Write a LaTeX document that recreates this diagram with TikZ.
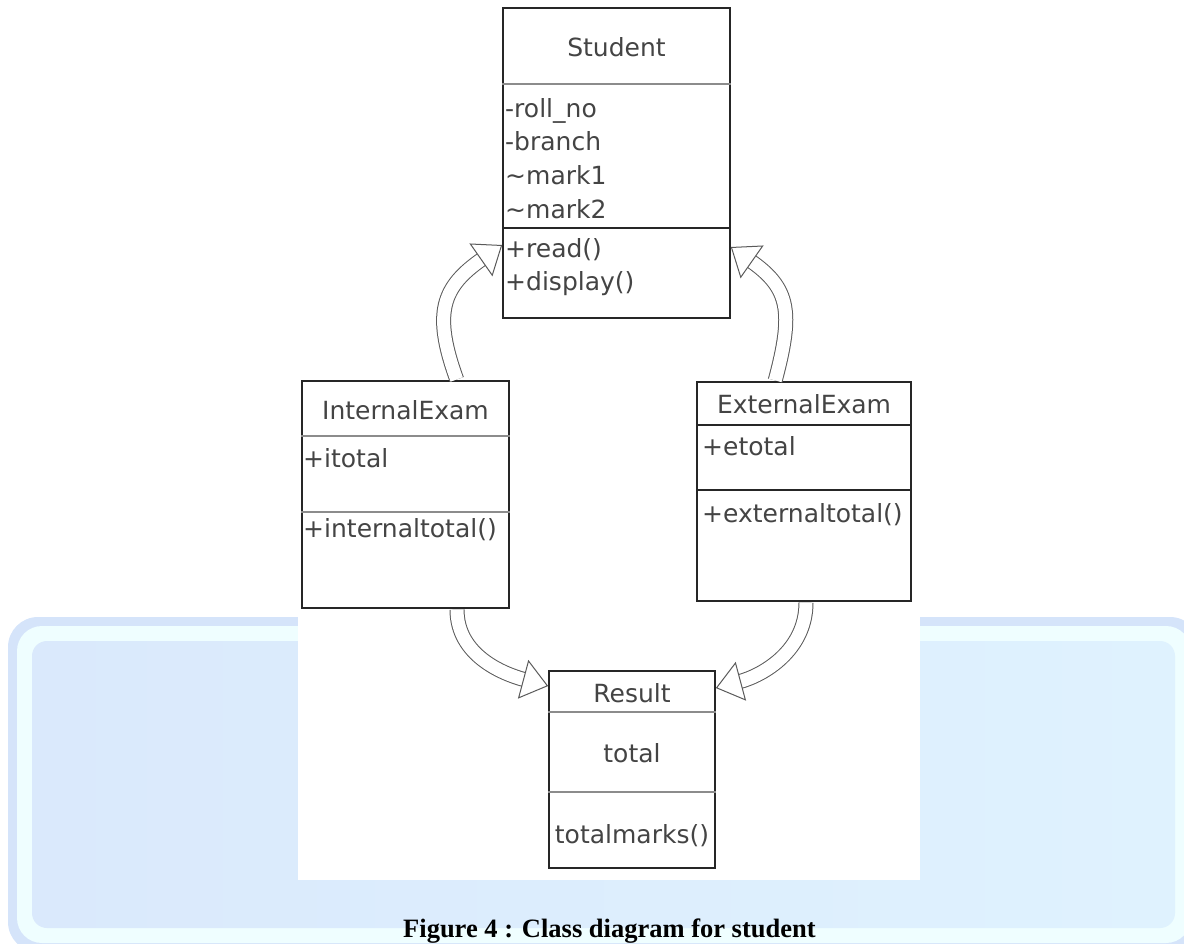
\documentclass[tikz,border=0pt]{standalone}
\usepackage{fontspec}
\setmainfont{DejaVu Sans}
\newfontfamily\capfont{Liberation Serif}
\usetikzlibrary{positioning,arrows.meta,decorations.markings}

\definecolor{paneledge}{HTML}{D5E4FA}
\definecolor{panelrim}{HTML}{EFFEFF}
\definecolor{panelleft}{HTML}{DAE9FC}
\definecolor{panelright}{HTML}{DFF2FE}
\definecolor{umlline}{HTML}{262626}
\definecolor{umltext}{HTML}{444444}
\definecolor{umlrule}{HTML}{8C8C8C}
\definecolor{flow}{HTML}{5A5A5A}

\begin{document}
\begin{tikzpicture}[x=1pt, y=-1pt,
  every node/.style={font=\fontsize{25}{30}\selectfont, text=umltext, inner sep=0pt},
  classbox/.style={rectangle, draw=umlline, line width=1.6pt, fill=white},
  member/.style={anchor=base west},
  title/.style={anchor=base},
  divider/.style={draw=umlrule, line width=1.2pt},
  inherit/.style={draw=flow, line width=15pt, shorten <=0.8pt, shorten >=24.5pt,
    postaction={draw=white, line width=13pt, shorten <=0.8pt, shorten >=24.5pt},
    postaction={decoration={markings, mark=at position 1 with
      {\arrow[flow, line width=1pt]{Triangle[length=26pt, width=40pt, fill=white]}}}, decorate}}]

  % panel behind the figure
  \useasboundingbox (0,0) rectangle (1184,943);
  \clip (0,0) rectangle (1184,943);
  \fill[paneledge, rounded corners=30pt] (8,617) rectangle (1200,952);
  \fill[panelrim, rounded corners=25pt] (17,626) rectangle (1191,943);
  \shade[left color=panelleft, right color=panelright, rounded corners=15pt] (32,641) rectangle (1175,928);
  \fill[white] (298,600) rectangle (920,880);

  % classes
  \node[classbox, minimum width=227pt, minimum height=310pt] (student) at (616.5,163) {};
  \node[classbox, minimum width=207pt, minimum height=227pt] (internal) at (405.5,494.5) {};
  \node[classbox, minimum width=214pt, minimum height=219pt] (external) at (804,491.5) {};
  \node[classbox, minimum width=166pt, minimum height=197pt] (result) at (632,769.5) {};

  % compartments
  \draw[divider, line width=2.6pt] (student.west |- 0,84) -- (student.east |- 0,84);
  \draw[divider, draw=umlline] (student.west |- 0,228) -- (student.east |- 0,228);
  \draw[divider] (internal.west |- 0,436) -- (internal.east |- 0,436);
  \draw[divider] (internal.west |- 0,512) -- (internal.east |- 0,512);
  \draw[divider, draw=umlline] (external.west |- 0,425) -- (external.east |- 0,425);
  \draw[divider, draw=umlline] (external.west |- 0,490) -- (external.east |- 0,490);
  \draw[divider] (result.west |- 0,712) -- (result.east |- 0,712);
  \draw[divider] (result.west |- 0,792) -- (result.east |- 0,792);

  % names, attributes, operations
  \node[title] (stuname) at (student.north |- 0,56) {Student};
  \foreach \txt [count=\i from 0] in {-roll\_no,-branch,\textasciitilde mark1,\textasciitilde mark2}
    \node[member] (stuattr\i) at (505,{117+33.7*\i}) {\txt};
  \foreach \txt [count=\i from 0] in {+read(),+display()}
    \node[member] (stuop\i) at (505,{257+33.5*\i}) {\txt};

  \node[title] (intname) at (internal.north |- 0,419) {InternalExam};
  \node[member] (intattr) at (303,467) {+itotal};
  \node[member] (intop) at (303,537) {+internaltotal()};

  \node[title] (extname) at (external.north |- 0,413) {ExternalExam};
  \node[member] (extattr) at (702,455) {+etotal};
  \node[member] (extop) at (702,522) {+externaltotal()};

  \node[title] (resname) at (result.north |- 0,702) {Result};
  \node[title] (resattr) at (result.north |- 0,762) {total};
  \node[title] (resop) at (result.north |- 0,843) {totalmarks()};

  % generalisations
  \draw[inherit] ([xshift=51.5pt]internal.north) to[out=110, in=215, looseness=1.3] ([yshift=-82pt]student.west);
  \draw[inherit] ([xshift=-29pt]external.north) to[out=75, in=-35, looseness=1.3] ([yshift=-84pt]student.east);
  \draw[inherit] ([xshift=51.5pt]internal.south) to[out=-90, in=165] ([yshift=83.5pt]result.west);
  \draw[inherit] ([xshift=2pt]external.south) to[out=-90, in=15] ([yshift=81.5pt]result.east);

  \node[anchor=base west, text=black, font=\capfont\bfseries\fontsize{26.5}{30}\selectfont] (caption) at (403,937) {Figure 4 : Class diagram for student};
\end{tikzpicture}
\end{document}
